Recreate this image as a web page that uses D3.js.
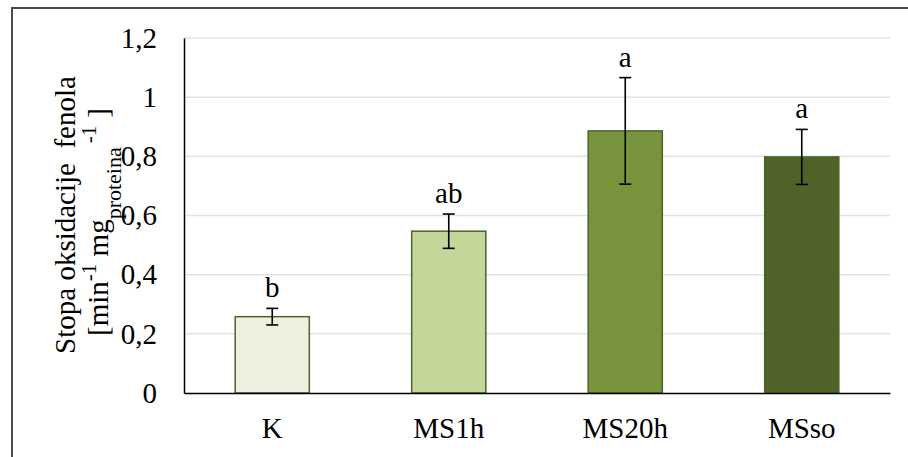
<!DOCTYPE html>
<html>
<head>
<meta charset="utf-8">
<script src="https://cdn.jsdelivr.net/npm/d3@7"></script>
<style>
  html, body { margin: 0; padding: 0; background: #fff; }
  svg { display: block; }
</style>
</head>
<body>
<div id="chart"></div>
<script>
// Phenol oxidation rate per treatment, with standard deviation and significance letters
const categories = ["K", "MS1h", "MS20h", "MSso"];
const values = [0.258, 0.547, 0.886, 0.798];
const errors = [0.028, 0.058, 0.18, 0.093];
const letters = ["b", "ab", "a", "a"];
const fills = ["#ebf1de", "#c4d79b", "#77933c", "#4f6228"];
const yTicks = [0, 0.2, 0.4, 0.6, 0.8, 1, 1.2];

const FONT = "Liberation Serif, DejaVu Serif, Times New Roman, serif";
const FS = 29;
const W = 908, H = 457;
const margin = { left: 184, right: 18, top: 38, bottom: 64 };

const svg = d3.select("#chart").append("svg")
  .attr("width", W).attr("height", H)
  .attr("font-family", FONT);

// chart area frame (runs off the right and bottom edges)
svg.append("rect")
  .attr("x", 12).attr("y", 8)
  .attr("width", W + 20).attr("height", H + 20)
  .attr("fill", "none")
  .attr("stroke", "#4a4a4a")
  .attr("stroke-width", 2);

const x = d3.scaleBand()
  .domain(categories)
  .range([margin.left, W - margin.right])
  .paddingInner(0.58)
  .paddingOuter(0.29);

const y = d3.scaleLinear()
  .domain([0, 1.2])
  .range([H - margin.bottom, margin.top]);

const fmt = d => d3.format("~g")(d).replace(".", ",");

// horizontal gridlines
svg.append("g")
  .selectAll("line")
  .data(yTicks.filter(d => d > 0))
  .join("line")
  .attr("x1", margin.left).attr("x2", W - margin.right)
  .attr("y1", d => y(d)).attr("y2", d => y(d))
  .attr("stroke", "#e3e3e3")
  .attr("stroke-width", 1.5);

// y axis
const yAxis = svg.append("g")
  .attr("transform", `translate(${margin.left},0)`)
  .call(d3.axisLeft(y).tickValues(yTicks).tickFormat(fmt).tickSize(0).tickPadding(27))
  .attr("font-family", FONT)
  .attr("font-size", FS);
yAxis.select(".domain").attr("stroke", "#000").attr("stroke-width", 1.5);
yAxis.selectAll("text").attr("fill", "#000");

// bars
svg.append("g")
  .selectAll("rect")
  .data(categories)
  .join("rect")
  .attr("x", d => x(d))
  .attr("width", x.bandwidth())
  .attr("y", (d, i) => y(values[i]))
  .attr("height", (d, i) => y(0) - y(values[i]))
  .attr("fill", (d, i) => fills[i])
  .attr("stroke", "#4f6228")
  .attr("stroke-width", 1.5);

// x axis
const xAxis = svg.append("g")
  .attr("transform", `translate(0,${y(0)})`)
  .call(d3.axisBottom(x).tickSize(0).tickPadding(24))
  .attr("font-family", FONT)
  .attr("font-size", FS);
xAxis.select(".domain").attr("stroke", "#000").attr("stroke-width", 1.5);
xAxis.selectAll("text").attr("fill", "#000");

// error bars
const eb = svg.append("g").attr("stroke", "#000").attr("stroke-width", 1.6);
categories.forEach((c, i) => {
  const cx = x(c) + x.bandwidth() / 2;
  const hi = y(values[i] + errors[i]);
  const lo = y(values[i] - errors[i]);
  eb.append("line").attr("x1", cx).attr("x2", cx).attr("y1", hi).attr("y2", lo);
  eb.append("line").attr("x1", cx - 6).attr("x2", cx + 6).attr("y1", hi).attr("y2", hi);
  eb.append("line").attr("x1", cx - 6).attr("x2", cx + 6).attr("y1", lo).attr("y2", lo);
});

// significance letters
svg.append("g")
  .selectAll("text")
  .data(categories)
  .join("text")
  .attr("x", d => x(d) + x.bandwidth() / 2)
  .attr("y", (d, i) => y(values[i] + errors[i]) - 11)
  .attr("text-anchor", "middle")
  .attr("font-size", FS)
  .text((d, i) => letters[i]);

// y axis title, two lines
svg.append("text")
  .attr("transform", "translate(75,215) rotate(-90)")
  .attr("text-anchor", "middle")
  .attr("font-size", FS)
  .style("white-space", "pre")
  .text("Stopa oksidacije  fenola");

const t2 = svg.append("text")
  .attr("transform", "translate(108,222) rotate(-90)")
  .attr("text-anchor", "middle")
  .attr("font-size", FS)
  .style("white-space", "pre");
t2.append("tspan").text("[min");
t2.append("tspan").attr("baseline-shift", "super").attr("font-size", 21).text("-1");
t2.append("tspan").text(" mg");
t2.append("tspan").attr("baseline-shift", "sub").attr("font-size", 22).text("proteina");
t2.append("tspan").attr("baseline-shift", "super").attr("font-size", 21).attr("dx", 4).text("-1");
t2.append("tspan").attr("dx", 8).text("]");
</script>
</body>
</html>
